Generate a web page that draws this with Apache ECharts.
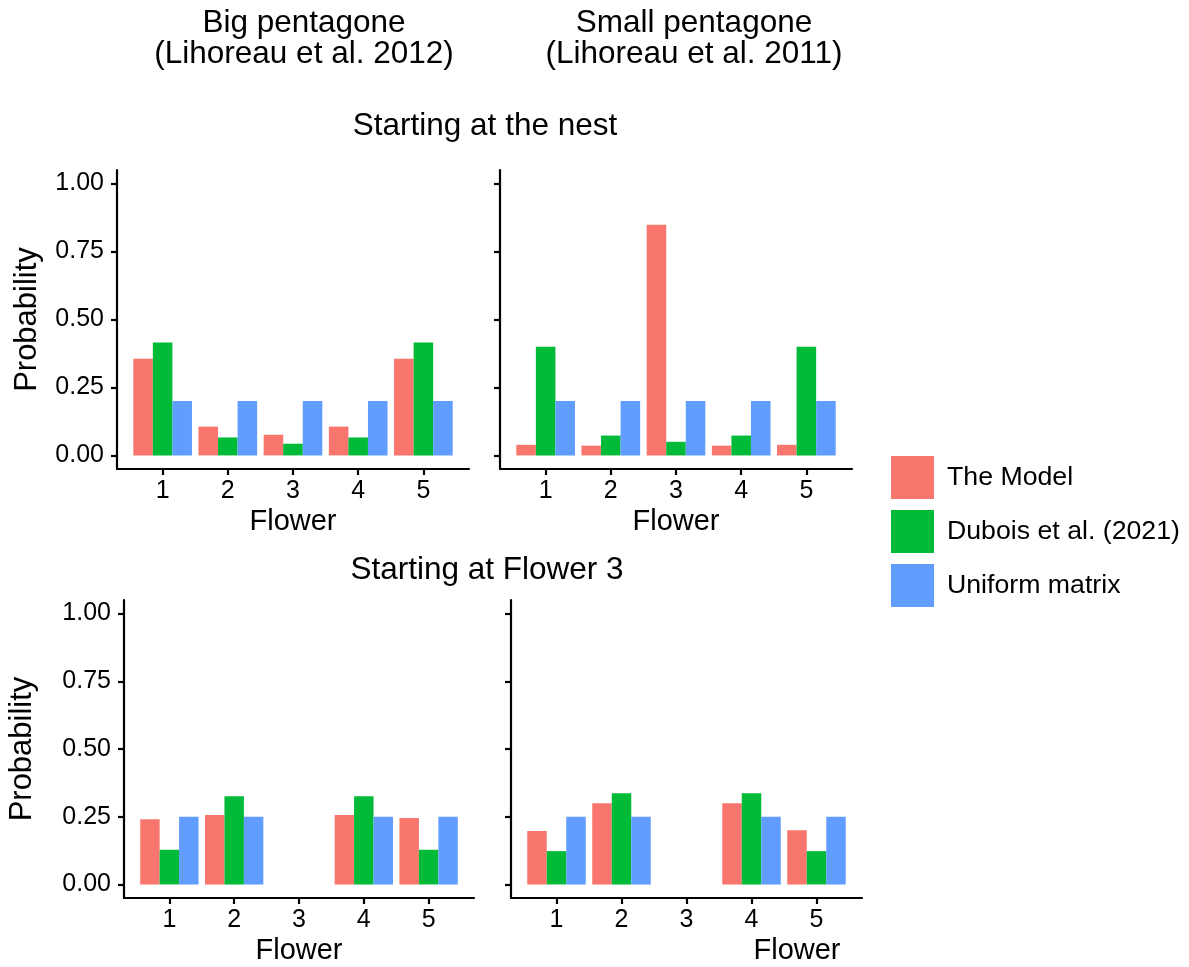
<!DOCTYPE html>
<html>
<head>
<meta charset="utf-8">
<script src="https://cdn.jsdelivr.net/npm/echarts@6/dist/echarts.min.js"></script>
<style>
  html, body { margin: 0; padding: 0; background: #fff; }
  #chart { width: 1189px; height: 967px; }
</style>
</head>
<body>
<div id="chart"></div>
<script>
    // data
    var flowers = [1, 2, 3, 4, 5];
    var seriesNames = ['The Model', 'Dubois et al. (2021)', 'Uniform matrix'];
    var seriesColors = ['#F8766D', '#00BA38', '#619CFF'];
    var yTicks = [0, 0.25, 0.5, 0.75, 1];

    // starting at the nest
    var bigNestModel = [0.356, 0.106, 0.076, 0.106, 0.356];
    var bigNestDubois = [0.415, 0.066, 0.043, 0.066, 0.415];
    var bigNestUniform = [0.2, 0.2, 0.2, 0.2, 0.2];
    var smallNestModel = [0.039, 0.036, 0.849, 0.036, 0.039];
    var smallNestDubois = [0.40, 0.073, 0.05, 0.073, 0.40];
    var smallNestUniform = [0.2, 0.2, 0.2, 0.2, 0.2];

    // starting at flower 3
    var bigF3Model = [0.241, 0.256, null, 0.256, 0.245];
    var bigF3Dubois = [0.128, 0.326, null, 0.326, 0.128];
    var bigF3Uniform = [0.25, 0.25, null, 0.25, 0.25];
    var smallF3Model = [0.197, 0.30, null, 0.30, 0.20];
    var smallF3Dubois = [0.123, 0.337, null, 0.337, 0.123];
    var smallF3Uniform = [0.25, 0.25, null, 0.25, 0.25];

    var panels = [
        [bigNestModel, bigNestDubois, bigNestUniform],
        [smallNestModel, smallNestDubois, smallNestUniform],
        [bigF3Model, bigF3Dubois, bigF3Uniform],
        [smallF3Model, smallF3Dubois, smallF3Uniform]
    ];

    var FONT = '"Liberation Sans", Arial, Helvetica, sans-serif';
    var axisLineStyle = { color: '#000', width: 2.2 };

    var grids = [
        { left: 117, top: 170, width: 352, height: 299 },
        { left: 500, top: 170, width: 352, height: 299 },
        { left: 124, top: 600, width: 350, height: 298 },
        { left: 511, top: 600, width: 351, height: 298 }
    ];

    var xAxes = [], yAxes = [], series = [];
    panels.forEach(function (panel, p) {
        xAxes.push({
            type: 'value', gridIndex: p, min: 0.3, max: 5.7,
            splitLine: { show: false },
            axisLine: { onZero: false, lineStyle: axisLineStyle },
            axisTick: { customValues: flowers, length: 6, lineStyle: axisLineStyle },
            axisLabel: { customValues: flowers, fontSize: 25, color: '#000', fontFamily: FONT, margin: 10 },
            name: 'Flower', nameLocation: 'middle', nameGap: 38,
            nameTextStyle: {
                fontSize: 29, color: '#000', fontFamily: FONT,
                padding: p === 3 ? [0, 0, 0, 221] : 0
            }
        });
        var leftSide = (p % 2 === 0);
        yAxes.push({
            type: 'value', gridIndex: p, min: -0.05, max: 1.05,
            splitLine: { show: false },
            axisLine: { show: true, onZero: false, lineStyle: axisLineStyle },
            axisTick: { show: true, customValues: yTicks, length: 6, lineStyle: axisLineStyle },
            axisLabel: {
                show: leftSide, customValues: yTicks, fontSize: 25, color: '#000', fontFamily: FONT, margin: 13,
                formatter: function (v) { return v.toFixed(2); }
            },
            name: leftSide ? 'Probability' : '', nameLocation: 'middle', nameRotate: 90,
            nameGap: p === 0 ? 74 : 86,
            nameTextStyle: { fontSize: 31, color: '#000', fontFamily: FONT }
        });
        panel.forEach(function (vals, s) {
            var data = [];
            vals.forEach(function (v, i) { if (v !== null) data.push([flowers[i], v]); });
            series.push({
                type: 'bar', name: seriesNames[s],
                xAxisIndex: p, yAxisIndex: p,
                barWidth: '30%', barGap: '0%',
                itemStyle: { color: seriesColors[s] },
                data: data
            });
        });
    });

    function label(text, x, y) {
        return {
            type: 'text', x: x, y: y,
            style: { text: text, font: '31.5px ' + FONT, fill: '#000', align: 'center', verticalAlign: 'middle' }
        };
    }

    var myChart = echarts.init(document.getElementById('chart'));
    myChart.setOption({
        animation: false,
        backgroundColor: '#fff',
        grid: grids,
        xAxis: xAxes,
        yAxis: yAxes,
        legend: {
            orient: 'vertical', left: 886, top: 451,
            itemWidth: 43, itemHeight: 43, itemGap: 11, icon: 'rect',
            data: seriesNames,
            textStyle: { fontSize: 26.7, color: '#000', fontFamily: FONT, padding: [0, 0, 0, 8] }
        },
        graphic: [
            label('Big pentagone', 304, 23),
            label('(Lihoreau et al. 2012)', 304, 54),
            label('Small pentagone', 694, 23),
            label('(Lihoreau et al. 2011)', 694, 54),
            label('Starting at the nest', 485, 126),
            label('Starting at Flower 3', 487, 570)
        ],
        series: series
    });
</script>
</body>
</html>
